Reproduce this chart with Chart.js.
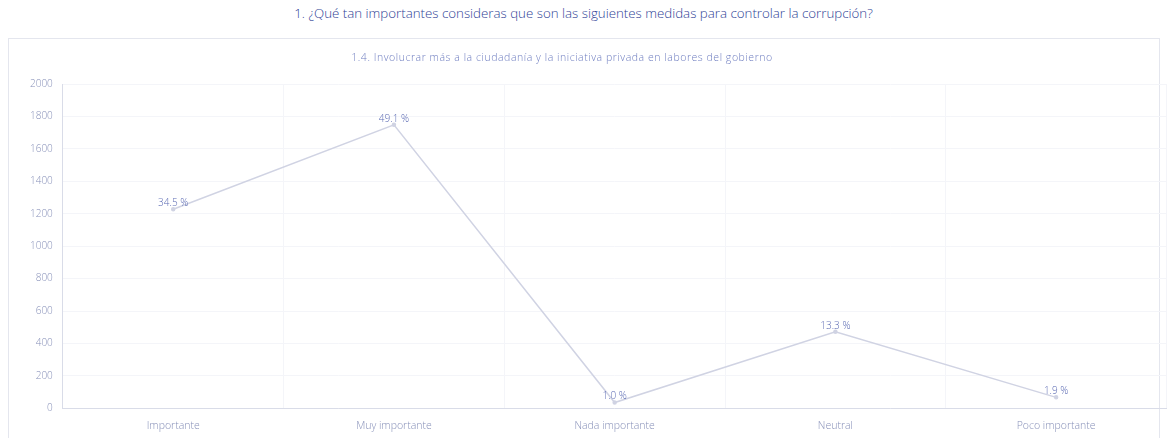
<!DOCTYPE html>
<html>
<head>
<meta charset="utf-8">
<script src="https://cdn.jsdelivr.net/npm/chart.js@4"></script>
<style>
  html, body { margin: 0; padding: 0; background: #fff; width: 1167px; height: 438px; overflow: hidden; font-family: "Open Sans", sans-serif; }
  #title { position: absolute; top: 4px; left: 0; width: 1167px; text-align: center; font-size: 13.3px; font-weight: 300; color: #2f3f96; }
  #subtitle { position: absolute; top: 50px; left: 262px; width: 600px; text-align: center; font-size: 10.5px; font-weight: 300; letter-spacing: 0.55px; color: #6f7ec0; }
  #panel { position: absolute; left: 8px; top: 38px; width: 1152px; height: 420px; border: 1px solid #e4e6ee; box-sizing: border-box; }
  #wrap { position: absolute; left: 0; top: 0; width: 1163px; height: 408px; }
</style>
</head>
<body>
<div id="title">1. ¿Qué tan importantes consideras que son las siguientes medidas para controlar la corrupción?</div>
<div id="panel"><div id="wrap"><canvas id="chart"></canvas></div></div>
<div id="subtitle">1.4. Involucrar más a la ciudadanía y la iniciativa privada en labores del gobierno</div>
<script>
// categorías y valores
const categorias = ['Importante', 'Muy importante', 'Nada importante', 'Neutral', 'Poco importante'];
const respuestas = [1228, 1748, 36, 473, 68];
const porcentajes = ['34.5 %', '49.1 %', '1.0 %', '13.3 %', '1.9 %'];

// etiquetas de porcentaje sobre cada punto
const etiquetas = {
    id: 'etiquetas',
    afterDatasetsDraw(chart) {
        const ctx = chart.ctx;
        const meta = chart.getDatasetMeta(0);
        ctx.save();
        ctx.font = '300 10px "Open Sans", sans-serif';
        ctx.fillStyle = '#5d6cb4';
        ctx.textAlign = 'center';
        ctx.textBaseline = 'middle';
        meta.data.forEach((pt, i) => {
            ctx.fillText(porcentajes[i], pt.x, pt.y - 6);
        });
        ctx.restore();
    }
};

new Chart(document.getElementById('chart'), {
    type: 'line',
    data: {
        labels: categorias,
        datasets: [{
            data: respuestas,
            borderColor: '#d0d3e3',
            borderWidth: 1.5,
            pointRadius: 1.5,
            pointBackgroundColor: '#d0d3e3',
            pointBorderColor: '#d0d3e3',
            tension: 0
        }]
    },
    options: {
        responsive: true,
        maintainAspectRatio: false,
        animation: false,
        layout: { padding: { left: 11, right: 0, top: 45, bottom: 4 } },
        plugins: {
            legend: { display: false },
            tooltip: { enabled: false },
            title: { display: false }
        },
        scales: {
            x: {
                offset: true,
                grid: { color: '#f4f5f9', offset: true, drawTicks: false },
                border: { color: '#d9dce8' },
                ticks: { color: '#8790b8', font: { family: 'Open Sans', size: 10.5, weight: 300 }, padding: 11 }
            },
            y: {
                min: 0,
                max: 2000,
                grid: { color: '#f4f5f9', drawTicks: false },
                border: { color: '#d9dce8' },
                ticks: {
                    stepSize: 200,
                    color: '#8790b8',
                    font: { family: 'Open Sans', size: 10, weight: 300 },
                    padding: 10,
                    callback: v => String(v)
                }
            }
        }
    },
    plugins: [etiquetas]
});
</script>
</body>
</html>
